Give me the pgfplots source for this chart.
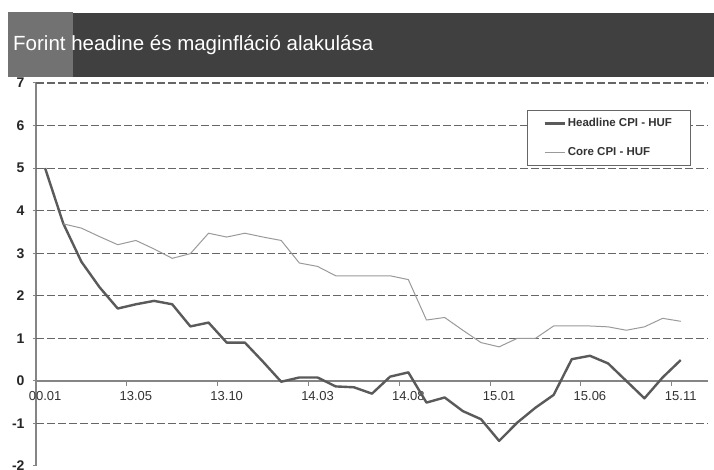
\documentclass[border=0pt]{standalone}
\usepackage{pgfplots}
\pgfplotsset{compat=1.18}
\usepackage{fontspec}
\setmainfont{Liberation Sans}

\definecolor{headcol}{HTML}{5A5A5A}
\definecolor{corecol}{HTML}{9A9A9A}
\definecolor{gridcol}{HTML}{666666}
\definecolor{axiscol}{HTML}{858585}
\definecolor{bannerdark}{HTML}{404040}
\definecolor{bannerlight}{HTML}{727272}

\begin{document}
\begin{tikzpicture}[x=1pt,y=1pt]
\useasboundingbox (0,0) rectangle (714,470);
\fill[white] (0,0) rectangle (714,470);
\begin{axis}[
  at={(36pt,4pt)}, anchor=south west,
  scale only axis, width=672pt, height=383pt,
  xmin=-0.5, xmax=36.5, ymin=-2, ymax=7,
  axis y line*=left, axis x line*=middle,
  hide obscured x ticks=false, hide obscured y ticks=false,
  /pgf/number format/assume math mode=true,
  axis line style={axiscol, line width=1.4pt},
  ytick={-2,-1,0,1,2,3,4,5,6,7},
  yticklabels={-2,-1,0,1,2,3,4,5,6,7},
  ytick style={axiscol, line width=1pt},
  ytick align=outside, major tick length=3pt,
  yticklabel style={font=\fontsize{14}{16}\selectfont\bfseries, text=black!85, xshift=-5pt},
  xtick={0,5,10,15,20,25,30,35},
  xticklabels={00.01,13.05,13.10,14.03,14.08,15.01,15.06,15.11},
  xtick style={draw=none},
  xticklabel style={font=\fontsize{13}{15}\selectfont, text=black!80, yshift=-7pt},
  extra x ticks={4.5,9.5,14.5,19.5,24.5,29.5,34.5},
  extra x tick labels={},
  extra x tick style={xtick style={draw=axiscol, line width=1pt}, tick align=outside, major tick length=5pt},
  extra y ticks={-1,1,2,3,4,5,6,7},
  extra y tick labels={},
  extra y tick style={grid=major, major tick length=0pt},
  major grid style={gridcol, dash pattern=on 8pt off 3pt, line width=1.2pt},
  legend style={at={(rel axis cs:0.7307,0.929)}, anchor=north west,
    draw=black!60, line width=0.8pt, fill=white,
    font=\fontsize{11.5}{13}\selectfont\bfseries, text=black!80,
    inner xsep=16pt, inner ysep=6pt, row sep=15pt},
  legend cell align=left,
  legend image code/.code={\draw[#1] (0pt,0pt) -- (20pt,0pt);},
]
\addplot[headcol, line width=2.4pt, line join=round] coordinates {
(0,5.0)(1,3.7)(2,2.8)(3,2.2)(4,1.7)(5,1.8)(6,1.88)(7,1.8)(8,1.28)(9,1.37)
(10,0.9)(11,0.9)(12,0.45)(13,-0.02)(14,0.08)(15,0.08)(16,-0.13)(17,-0.15)
(18,-0.3)(19,0.1)(20,0.2)(21,-0.51)(22,-0.39)(23,-0.71)(24,-0.9)(25,-1.41)
(26,-0.98)(27,-0.63)(28,-0.33)(29,0.51)(30,0.59)(31,0.41)(32,0.0)(33,-0.41)
(34,0.08)(35,0.49)};
\addlegendentry{Headline CPI - HUF}
\addplot[corecol, line width=1pt, line join=round] coordinates {
(1,3.69)(2,3.59)(3,3.39)(4,3.2)(5,3.3)(6,3.1)(7,2.88)(8,2.99)(9,3.47)
(10,3.38)(11,3.47)(12,3.38)(13,3.3)(14,2.77)(15,2.69)(16,2.47)(17,2.47)
(18,2.47)(19,2.47)(20,2.38)(21,1.43)(22,1.49)(23,1.19)(24,0.9)(25,0.8)
(26,1.0)(27,1.0)(28,1.29)(29,1.29)(30,1.29)(31,1.27)(32,1.19)(33,1.27)
(34,1.47)(35,1.4)};
\addlegendentry{Core CPI - HUF}
\end{axis}
% title banner
\fill[bannerdark] (67,393) rectangle (714,457);
\fill[bannerlight] (8,393) rectangle (73,458);
\node[anchor=west, text=white, inner sep=0pt, font=\fontsize{20.5}{24}\selectfont] at (13,425) {Forint headine és maginfláció alakulása};
\end{tikzpicture}
\end{document}
